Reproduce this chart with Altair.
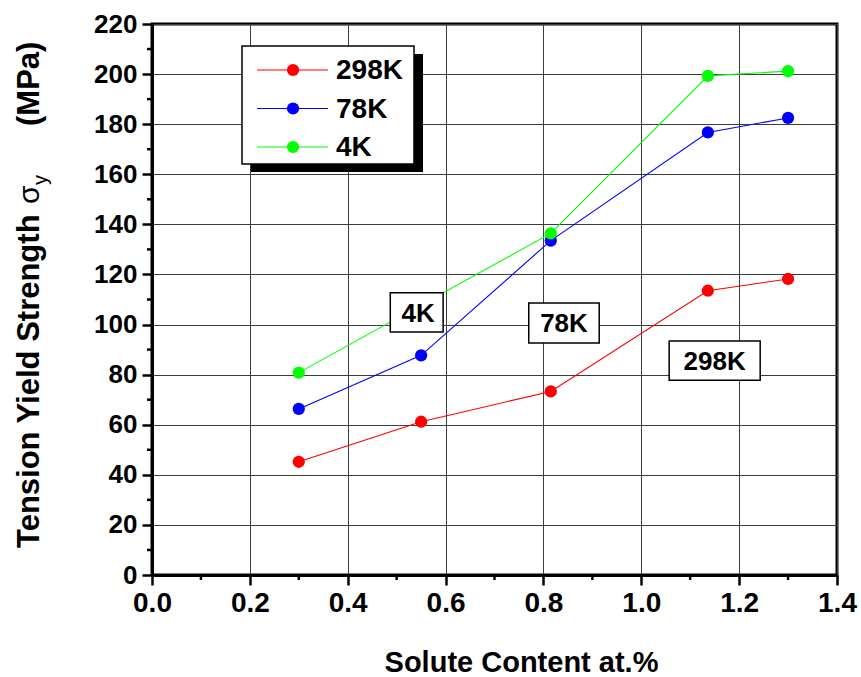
import altair as alt
import pandas as pd

# Solute content (at.%) and tension yield strength (MPa) at three temperatures
content = [0.30, 0.55, 0.815, 1.136, 1.30]
sy_298k = [45.2, 61.2, 73.3, 113.5, 118.2]
sy_78k = [66.3, 87.7, 133.5, 176.7, 182.5]
content_4k = [0.30, 0.815, 1.136, 1.30]
sy_4k = [80.8, 136.4, 199.3, 201.2]

series = ["298K", "78K", "4K"]
colors = ["#FF0000", "#0000FF", "#00FF00"]

# boxed in-plot labels: text, centre, box corners (data units)
ann_text = ["4K", "78K", "298K"]
ann_x = [0.544, 0.842, 1.150]
ann_y = [104.8, 100.6, 85.4]
ann_x0 = [0.487, 0.770, 1.057]
ann_x1 = [0.595, 0.914, 1.243]
ann_y0 = [97.0, 92.6, 77.8]
ann_y1 = [112.7, 108.6, 93.4]

x_major = [0.0, 0.2, 0.4, 0.6, 0.8, 1.0, 1.2, 1.4]
x_minor = [0.1, 0.3, 0.5, 0.7, 0.9, 1.1, 1.3]
y_major = list(range(0, 221, 20))
y_minor = list(range(10, 220, 20))

rows = []
for name, xs, ys in [("298K", content, sy_298k), ("78K", content, sy_78k), ("4K", content_4k, sy_4k)]:
    for i, (xv, yv) in enumerate(zip(xs, ys)):
        rows.append({"content": xv, "sy": yv, "series": name, "order": i})
df = pd.DataFrame(rows)

ann = pd.DataFrame({"label": ann_text, "content": ann_x, "sy": ann_y,
                    "x0": ann_x0, "x1": ann_x1, "y0": ann_y0, "y1": ann_y1})

FONT = "Liberation Sans"
W, H = 685, 551

xscale = alt.Scale(domain=[0, 1.4], nice=False, zero=False)
yscale = alt.Scale(domain=[0, 220], nice=False)
cscale = alt.Scale(domain=series, range=colors)

base = alt.Chart(df).encode(
    x=alt.X("content:Q", scale=xscale,
            axis=alt.Axis(values=x_major, format=".1f", title="Solute Content at.%",
                          titleX=369, titleY=96, titleBaseline="alphabetic")),
    y=alt.Y("sy:Q", scale=yscale, axis=alt.Axis(values=y_major, title=None)),
    color=alt.Color("series:N", scale=cscale, legend=None),
)
lines = base.mark_line(strokeWidth=1.1).encode(order="order:Q", detail="series:N")
points = base.mark_circle(size=150, opacity=1)

# minor ticks, drawn just outside the bottom and left frame
one = pd.DataFrame({"k": [0]})
minor_x = alt.Chart(pd.DataFrame({"content": x_minor})).mark_rule(
    color="black", strokeWidth=2.5).encode(
    x=alt.X("content:Q", scale=xscale), y=alt.value(H), y2=alt.value(H + 5))
minor_y = alt.Chart(pd.DataFrame({"sy": y_minor})).mark_rule(
    color="black", strokeWidth=2.5).encode(
    y=alt.Y("sy:Q", scale=yscale), x=alt.value(-5), x2=alt.value(0))

boxes = alt.Chart(ann).mark_rect(fill="white", stroke="black", strokeWidth=1.5).encode(
    x=alt.X("x0:Q", scale=xscale), x2="x1:Q",
    y=alt.Y("y0:Q", scale=yscale), y2="y1:Q",
)
box_text = alt.Chart(ann).mark_text(font=FONT, fontSize=26, fontWeight="bold",
                                    align="center", baseline="middle", dy=1).encode(
    x=alt.X("content:Q", scale=xscale), y=alt.Y("sy:Q", scale=yscale), text="label:N",
)

# legend panel with drop shadow (pixel positions inside the plot area)
legend_layers = [
    alt.Chart(one).mark_rect(fill="black").encode(
        x=alt.value(99), x2=alt.value(271), y=alt.value(30), y2=alt.value(148)),
    alt.Chart(one).mark_rect(fill="white", stroke="black", strokeWidth=1.5).encode(
        x=alt.value(90), x2=alt.value(262), y=alt.value(22), y2=alt.value(140)),
]
for i, (name, col) in enumerate(zip(series, colors)):
    ry = 46 + i * 38.5
    legend_layers.append(alt.Chart(one).mark_rule(color=col, strokeWidth=1.1).encode(
        x=alt.value(105), x2=alt.value(176), y=alt.value(ry)))
    legend_layers.append(alt.Chart(one).mark_circle(color=col, size=150, opacity=1).encode(
        x=alt.value(141), y=alt.value(ry)))
    legend_layers.append(alt.Chart(one).mark_text(
        text=name, font=FONT, fontSize=28, fontWeight="bold", align="left",
        baseline="middle", color="black", dy=1).encode(x=alt.value(184), y=alt.value(ry)))

# rotated y-axis title with a subscripted sigma
ytitle = [
    alt.Chart(one).mark_text(text="Tension Yield Strength", font=FONT, fontSize=31,
                             fontWeight="bold", angle=270, align="left",
                             baseline="alphabetic", color="black").encode(
        x=alt.value(-113), y=alt.value(524)),
    alt.Chart(one).mark_text(text="\u03c3", font=FONT, fontSize=30, angle=270,
                             align="left", baseline="alphabetic", color="black").encode(
        x=alt.value(-113), y=alt.value(180)),
    alt.Chart(one).mark_text(text="y", font=FONT, fontSize=20, angle=270,
                             align="left", baseline="alphabetic", color="black").encode(
        x=alt.value(-105), y=alt.value(161)),
    alt.Chart(one).mark_text(text="(MPa)", font=FONT, fontSize=31, fontWeight="bold",
                             angle=270, align="left", baseline="alphabetic",
                             color="black").encode(
        x=alt.value(-113), y=alt.value(102)),
]

chart = alt.layer(lines, points, minor_x, minor_y, boxes, box_text,
                  *legend_layers, *ytitle).properties(
    width=W, height=H,
    background="white",
    autosize=alt.AutoSizeParams(type="none"),
    padding={"left": 152, "top": 24, "right": 24, "bottom": 102},
).configure_view(
    stroke="black", strokeWidth=3
).configure_axis(
    labelFont=FONT, labelFontWeight="bold", labelFlush=False, labelOverlap=False,
    labelColor="black",
    titleFont=FONT, titleFontSize=29, titleFontWeight="bold", titleColor="black",
    tickSize=10, tickWidth=2.5, tickColor="black",
    domainColor="black", domainWidth=3,
    grid=True, gridColor="#3c3c3c", gridWidth=1, gridOpacity=1,
).configure_axisX(
    labelFontSize=28, labelPadding=4,
).configure_axisY(
    labelFontSize=26, labelPadding=5,
)

chart.save("out.html", embed_options={"renderer": "svg", "actions": False})
